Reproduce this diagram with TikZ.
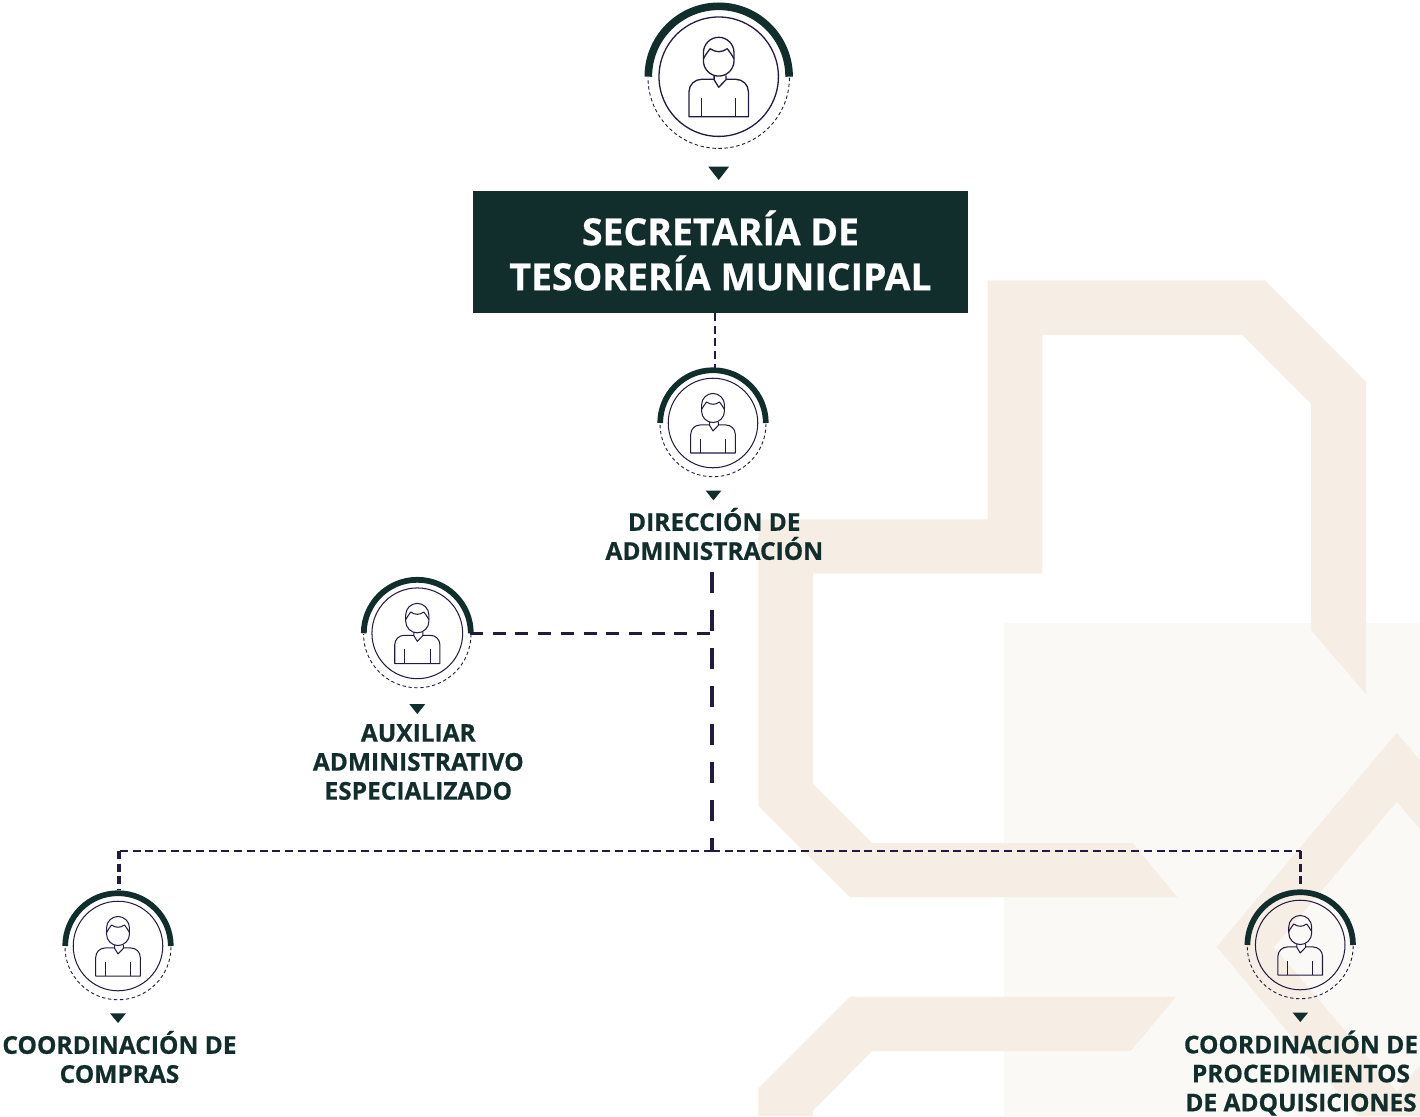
\documentclass[tikz,border=0pt]{standalone}
\usepackage{fontspec}
\setmainfont{Open Sans}[BoldFont={* Bold},BoldFeatures={FakeBold=0.6}]
\definecolor{ink}{HTML}{112E2D}
\definecolor{line}{HTML}{231A42}
\definecolor{tan}{HTML}{F6EEE5}
\definecolor{pale}{HTML}{FBF9F6}
\tikzset{
  x=1pt,y=-1pt,
  wedge/.style={fill=ink,draw=none},
  labeltext/.style={font=\fontsize{24.5}{29}\selectfont\bfseries,text=ink,align=center,inner sep=0pt},
  titletext/.style={font=\fontsize{37.4}{45}\selectfont\bfseries,text=white,align=center,inner sep=0pt},
  conthin/.style={draw=line,line width=2.3pt,dash pattern=on 8pt off 4.7pt},
  conthick/.style={draw=line,line width=3.2pt,dash pattern=on 8pt off 4.7pt},
  conmid/.style={draw=line,line width=3pt,dash pattern=on 13pt off 9.7pt},
  conlong/.style={draw=line,line width=3.2pt,dash pattern=on 21pt off 17pt},
}
% #1 scale, #2 x, #3 y, #4 node name
\newcommand{\personicon}[4]{%
  \coordinate (#4) at (#2,#3);
  \begin{scope}[shift={(#2,#3)},x=#1pt,y=-#1pt]
    \draw[ink,line width=#1*7.6pt] (-70.4,0) arc[start angle=180,end angle=360,x radius=70.4,y radius=70.4];
    \draw[line,line width=0.9pt,dash pattern=on 3.4pt off 2.6pt] (70.7,1) arc[start angle=0,end angle=180,x radius=70.7,y radius=70.7];
    \draw[line,line width=#1*1.1pt+0.2pt] (0,0) circle[radius=59.7];
    \begin{scope}[line width=#1*1.1pt+0.2pt,draw=line,line join=round]
      % head
      \draw (-15.3,-24) arc[start angle=180,end angle=360,x radius=15.3,y radius=15.4]
            -- (15.3,-16) arc[start angle=0,end angle=180,x radius=15.3,y radius=15.4] -- cycle;
      % hair
      \draw (-15.3,-18) .. controls (-13,-22) and (-11,-25) .. (-8.6,-28)
            .. controls (-3,-24) and (3,-24) .. (8.6,-28)
            .. controls (11,-25) and (13,-22) .. (15.3,-18);
      % collar
      \draw (-4.6,-1.4) -- (-4.6,3) -- (0,10.6) -- (7.3,3) -- (7.3,-1.4);
      % body
      \draw (-4.6,2.6) -- (-17,2.6) .. controls (-24,2.6) and (-29.7,8) .. (-29.7,15) -- (-29.7,40)
            -- (29.7,40) -- (29.7,15) .. controls (29.7,8) and (24,2.6) .. (17,2.6) -- (7.3,2.6);
      \draw (-17,21) -- (-17,40);
      \draw (17,21) -- (17,40);
    \end{scope}
  \end{scope}
}
\begin{document}
\begin{tikzpicture}
\useasboundingbox (0,0) rectangle (1420,1116);
\begin{scope}
\clip (0,0) rectangle (1420,1116);
\fill[pale] (1004.3,622.7) rectangle (1420,1116);
\fill[tan] (987.7,280.3) -- (1265,280.3) -- (1366,381.7) -- (1366,694.3) -- (1311,630) -- (1311,404) -- (1242.3,335)
  -- (1042.3,335) -- (1042.3,573.7) -- (813,573.7) -- (813,784) -- (872.3,843) -- (1132.7,843)
  -- (1177.3,897.3) -- (850,897.3) -- (758.3,806) -- (758.3,519.3) -- (987.7,519.3) -- cycle;
\fill[tan] (850,996.7) -- (1176,996.7) -- (1130.7,1051) -- (872.3,1051) -- (813,1110.7) -- (813,1116)
  -- (758.3,1116) -- (758.3,1088.3) -- cycle;
\fill[tan] (1396.7,732.7) -- (1420,760) -- (1420,829) -- (1396.7,801.7) -- (1274,947) -- (1397,1092)
  -- (1420,1065) -- (1420,1116) -- (1358,1116) -- (1216.7,946.7) -- cycle;
\end{scope}

\personicon{1}{718.7}{76.7}{top}
\personicon{0.75}{713}{423}{dir}
\personicon{0.76}{417.3}{633.3}{aux}
\personicon{0.75}{118}{946}{com}
\personicon{0.75}{1300.2}{945}{pro}

\fill[wedge] (708.3,166.7) -- (729,166.7) -- (718.7,180) -- cycle;
\fill[wedge] (705.7,490.7) -- (721.3,490.7) -- (713.5,500.3) -- cycle;
\fill[wedge] (409.3,704) -- (425.3,704) -- (417.3,714) -- cycle;
\fill[wedge] (110,1013.3) -- (126,1013.3) -- (118,1023) -- cycle;
\fill[wedge] (1292.7,1012.7) -- (1308,1012.7) -- (1300.3,1022) -- cycle;

\node[fill=ink,minimum width=495pt,minimum height=122pt,inner sep=0pt,outer sep=0pt] (box) at (720.5,252) {};
\node[titletext] (title) at (720.5,250.5) {SECRETARÍA DE\\TESORERÍA MUNICIPAL};

\node[labeltext] (dirlabel) at (714.3,534) {DIRECCIÓN DE\\ADMINISTRACIÓN};
\node[labeltext] (auxlabel) at (418.3,762) {AUXILIAR\\ADMINISTRATIVO\\ESPECIALIZADO};
\node[labeltext] (comlabel) at (119.5,1057) {COORDINACIÓN DE\\COMPRAS};
\node[labeltext] (prolabel) at (1301,1073) {COORDINACIÓN DE\\PROCEDIMIENTOS\\DE ADQUISICIONES};

\coordinate (boxdrop) at (715,313);
\coordinate (dirtop) at (715,368);
\coordinate (auxright) at (470,633);
\coordinate (trunktop) at (712,572);
\coordinate (auxjoin) at (712,633);
\coordinate (trunk) at (712,851);
\coordinate (comtop) at (119,890);
\coordinate (protop) at (1300.5,889);
\coordinate (cornerl) at (119,851);
\coordinate (cornerr) at (1300.5,851);

\draw[conthin] (boxdrop) -- (dirtop);
\draw[conlong] (trunktop) -- (trunk);
\draw[conmid] (auxright) -- (auxjoin);
\draw[conthin] (trunk) -- (cornerl);
\draw[conthin] (trunk) -- (cornerr);
\draw[conthick] (cornerl) -- (comtop);
\draw[conthick] (cornerr) -- (protop);
\end{tikzpicture}
\end{document}
